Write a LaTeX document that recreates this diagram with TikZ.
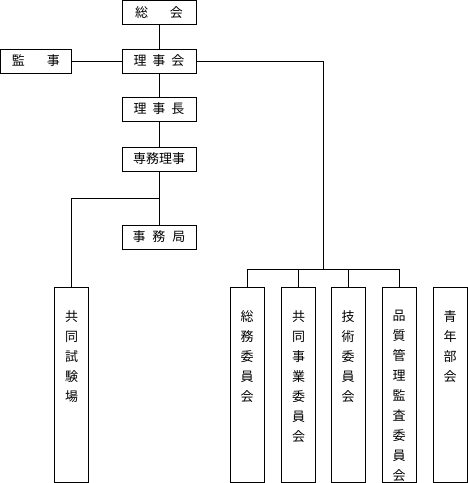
\documentclass[tikz,border=0pt]{standalone}
\usepackage{fontspec}
\newfontfamily\jp{Noto Sans CJK JP}
\usetikzlibrary{positioning,calc}

% vertical text in tall boxes
\newcommand{\tate}[1]{\parbox[c][195pt][t]{30pt}{\centering\vspace*{23pt}#1}}

\tikzset{
  yoko/.style={draw,line width=0.8pt,minimum width=74pt,minimum height=24pt,inner sep=0pt,font=\jp\fontsize{13}{16}\selectfont},
  tatebox/.style={draw,line width=0.8pt,minimum width=34pt,minimum height=195pt,inner sep=0pt,anchor=north,font=\jp\fontsize{13}{20}\selectfont},
  sen/.style={line width=0.8pt}
}

\begin{document}
\begin{tikzpicture}[x=1pt,y=-1pt]
        \useasboundingbox (0,0) rectangle (468,483);

        % Leitung
        \node[yoko] (soukai) at (159,12.5) {総\hspace{22pt}会};
        \node[yoko,minimum width=71pt] (kanji) at (36,61) {監\hspace{22pt}事};
        \node[yoko] (rijikai) at (159,61) {理\hspace{6pt}事\hspace{6pt}会};
        \node[yoko] (rijicho) at (159,109) {理\hspace{6pt}事\hspace{6pt}長};
        \node[yoko] (senmu) at (159,159) {専務理事};
        \node[yoko] (jimukyoku) at (159,237) {事\hspace{7pt}務\hspace{7pt}局};

        % Senkrechte Kaesten
        \node[tatebox] (shikenjo) at (71.5,287) {\tate{共\\同\\試\\験\\場}};
        \node[tatebox] (soumu) at (247,287) {\tate{総\\務\\委\\員\\会}};
        \node[tatebox] (kyoudou) at (298.5,287) {\tate{共\\同\\事\\業\\委\\員\\会}};
        \node[tatebox] (gijutsu) at (348,287) {\tate{技\\術\\委\\員\\会}};
        \node[tatebox] (hinshitsu) at (399,287) {\tate{品\\質\\管\\理\\監\\査\\委\\員\\会}};
        \node[tatebox] (seinen) at (450,287) {\tate{青\\年\\部\\会}};

        % Verbindungen
        \coordinate (bus) at (323,269);
        \coordinate (abzweig) at (159,198);
        \draw[sen] (soukai) -- (rijikai);
        \draw[sen] (kanji) -- (rijikai);
        \draw[sen] (rijikai) -- (rijicho);
        \draw[sen] (rijicho) -- (senmu);
        \draw[sen] (senmu) -- (jimukyoku);
        \draw[sen] (abzweig) -| (shikenjo.north);
        \draw[sen] (rijikai.east) -| (bus);
        \foreach \k in {soumu,kyoudou,gijutsu,hinshitsu} {
          \draw[sen] (\k.north) |- (bus);
        }
      \end{tikzpicture}
\end{document}
